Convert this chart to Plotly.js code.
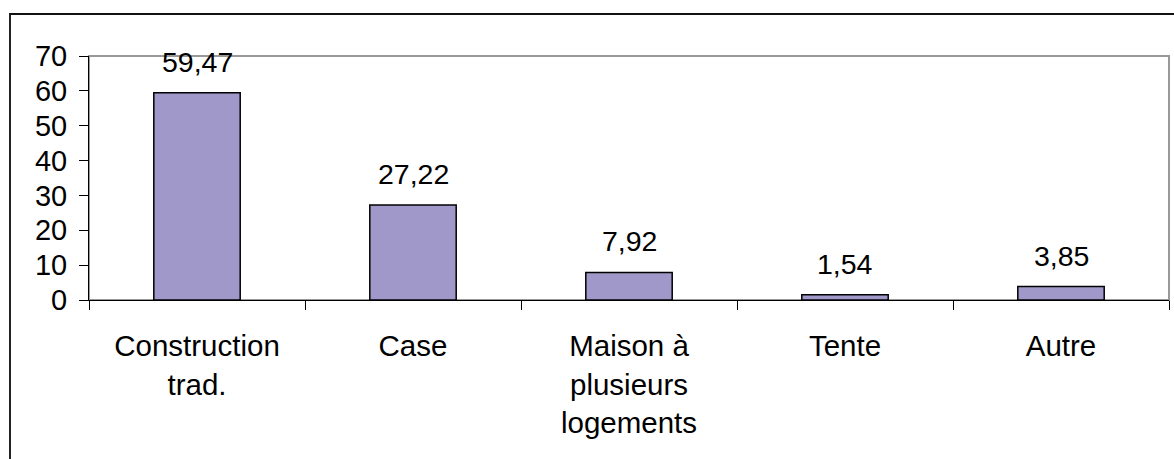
<!DOCTYPE html>
<html>
<head>
<meta charset="utf-8">
<script src="https://cdn.plot.ly/plotly-3.0.1.min.js"></script>
<style>
  html, body { margin: 0; padding: 0; background: #fff; }
  #wrap { position: relative; width: 1174px; height: 459px; overflow: hidden; }
  #chart { position: absolute; left: 0; top: 0; width: 1174px; height: 459px; }
  #frame { position: absolute; left: 9px; top: 13px; width: 1300px; height: 600px;
           border-left: 2px solid #222; border-top: 2px solid #111; pointer-events: none; }
</style>
</head>
<body>
<div id="wrap">
  <div id="chart"></div>
  <div id="frame"></div>
</div>
<script>
const categories = ["Construction<br>trad.", "Case", "Maison à<br>plusieurs<br>logements", "Tente", "Autre"];
const values = [59.47, 27.22, 7.92, 1.54, 3.85];
const yTicks = [0, 10, 20, 30, 40, 50, 60, 70];

const FONT = "Liberation Sans, Arial, sans-serif";

const labels = values.map(v => v.toFixed(2).replace('.', ','));

const trace = {
  type: 'bar',
  x: categories,
  y: values,
  width: 0.4,
  marker: { color: '#9f98c8', line: { color: '#000', width: 1.5 } },
  hoverinfo: 'skip'
};

const annotations = values.map((v, i) => ({
  x: categories[i], y: v, xref: 'x', yref: 'y',
  text: labels[i], showarrow: false, yanchor: 'bottom', yshift: 13,
  font: { family: FONT, size: 28.5, color: '#000' }
}));

const layout = {
  width: 1174, height: 459,
  margin: { l: 89, r: 5, t: 56, b: 159, pad: 0 },
  paper_bgcolor: 'rgba(0,0,0,0)', plot_bgcolor: '#fff',
  showlegend: false,
  font: { family: FONT, color: '#000' },
  xaxis: {
    type: 'category',
    showline: true, linecolor: '#000', linewidth: 1,
    ticks: 'outside', tickson: 'boundaries', ticklen: 9, tickcolor: '#000', tickwidth: 1,
    tickfont: { family: FONT, size: 29.5, color: '#000' },
    ticklabelstandoff: 20,
    showgrid: false, zeroline: false, fixedrange: true
  },
  yaxis: {
    range: [0, 70],
    tickvals: yTicks, ticktext: yTicks.map(String),
    showline: true, linecolor: '#000', linewidth: 1,
    ticks: 'outside', ticklen: 9, tickcolor: '#000', tickwidth: 1,
    tickfont: { family: FONT, size: 29, color: '#000' },
    ticklabelstandoff: 6,
    showgrid: false, zeroline: false, fixedrange: true
  },
  shapes: [{
    type: 'rect', xref: 'paper', yref: 'paper', x0: 0, x1: 1, y0: 0, y1: 1,
    line: { color: '#999', width: 2 }, layer: 'below'
  }],
  annotations: annotations
};

Plotly.newPlot('chart', [trace], layout, { displayModeBar: false, staticPlot: true });
</script>
</body>
</html>
